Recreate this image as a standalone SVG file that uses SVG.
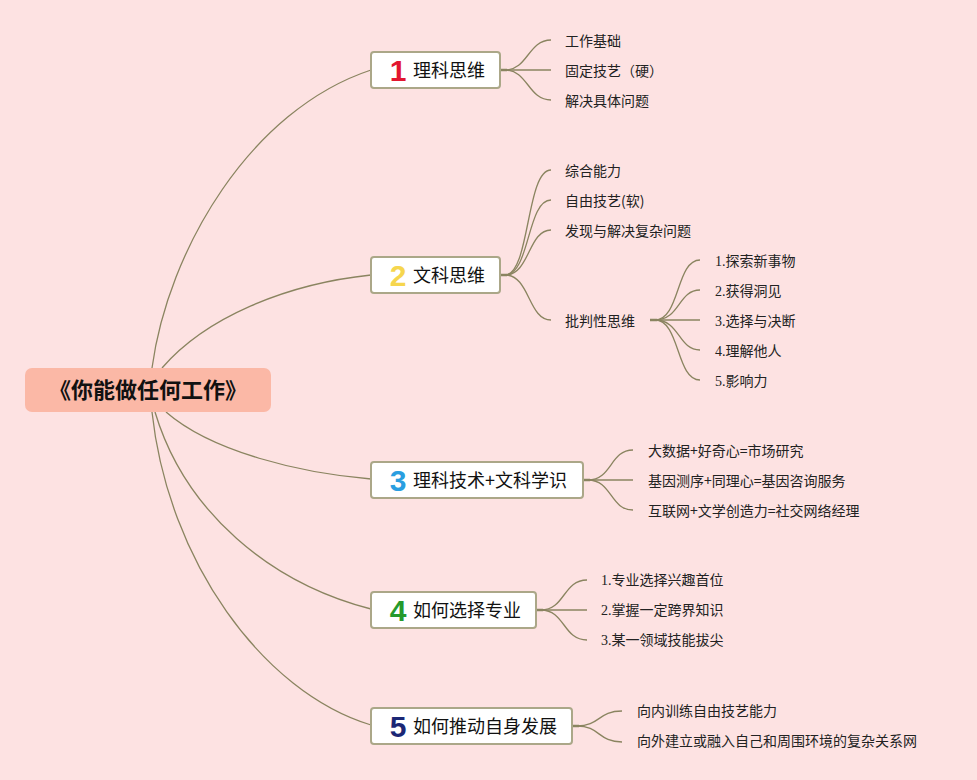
<svg xmlns="http://www.w3.org/2000/svg" width="977" height="780" viewBox="0 0 977 780">
<style>
.bg{fill:#fde2e2}
.root{fill:#fbb8a6}
.rootT{font-family:"Noto Sans CJK SC","Noto Sans",sans-serif;font-weight:bold;font-size:22px;fill:#111}
.box{fill:#ffffff;stroke:#aba788;stroke-width:2}
.bt{font-family:"Noto Sans CJK SC","Noto Sans",sans-serif;font-size:18px;fill:#111}
.num{font-family:"Liberation Sans","Arial",sans-serif;font-weight:bold;font-size:30px}
.lt{font-family:"Noto Sans CJK SC","Noto Sans",sans-serif;font-size:14px;fill:#222}
.ls{font-family:"Liberation Serif","Noto Sans CJK SC",serif;font-size:14px;fill:#222}
.c{fill:none;stroke:#8a8460;stroke-width:1.3}
.stub{fill:none;stroke:#8a8460;stroke-width:2.5}
</style>
<rect class="bg" x="0" y="0" width="977" height="780"/>
<g id="connectors">
<path class="c" d="M152,368 C168,250 250,110 371,70"/>
<path class="c" d="M162,368 C205,318 285,284 371,275"/>
<path class="c" d="M166,412 C212,452 300,473 371,479"/>
<path class="c" d="M155,412 C185,512 270,583 371,609"/>
<path class="c" d="M152,412 C168,560 262,692 371,725"/>
<path class="stub" d="M500,70 L507,70"/>
<path class="c" d="M505,70 C528,70 528,40 551,40"/>
<path class="c" d="M505,70 L551,70"/>
<path class="c" d="M505,70 C528,70 528,100 551,100"/>
<path class="stub" d="M500,275 L507,275"/>
<path class="c" d="M505,275 C530,275 526,170 551,170"/>
<path class="c" d="M505,275 C530,275 527,200 551,200"/>
<path class="c" d="M505,275 C530,275 528,230 551,230"/>
<path class="c" d="M505,275 C530,275 528,320 551,320"/>
<path class="stub" d="M650,320 L657,320"/>
<path class="c" d="M655,320 C680,320 676,260 700,260"/>
<path class="c" d="M655,320 C680,320 678,290 700,290"/>
<path class="c" d="M655,320 L700,320"/>
<path class="c" d="M655,320 C680,320 678,350 700,350"/>
<path class="c" d="M655,320 C680,320 676,380 700,380"/>
<path class="stub" d="M583,480 L590,480"/>
<path class="c" d="M588,480 C612,480 610,450 633,450"/>
<path class="c" d="M588,480 L633,480"/>
<path class="c" d="M588,480 C612,480 610,510 633,510"/>
<path class="stub" d="M536,610 L543,610"/>
<path class="c" d="M541,610 C565,610 563,580 587,580"/>
<path class="c" d="M541,610 L587,610"/>
<path class="c" d="M541,610 C565,610 563,640 587,640"/>
<path class="stub" d="M572,726 L579,726"/>
<path class="c" d="M577,726 C600,726 598,711 622,711"/>
<path class="c" d="M577,726 C600,726 598,742 622,742"/>
</g>
<g id="root">
<rect class="root" x="25" y="368" width="246" height="44" rx="7"/>
<text class="rootT" x="148" y="398" text-anchor="middle">《你能做任何工作》</text>
</g>
<g id="b1">
<rect class="box" x="371" y="52" width="129" height="36" rx="3"/>
<text class="num" x="398" y="81" text-anchor="middle" fill="#e2162f">1</text>
<text class="bt" x="413" y="77">理科思维</text>
</g>
<g id="b1-leaves">
<text class="lt" x="565" y="46">工作基础</text>
<text class="lt" x="565" y="76">固定技艺（硬）</text>
<text class="lt" x="565" y="106">解决具体问题</text>
</g>
<g id="b2">
<rect class="box" x="371" y="257" width="129" height="36" rx="3"/>
<text class="num" x="398" y="286" text-anchor="middle" fill="#f6d64e">2</text>
<text class="bt" x="413" y="282">文科思维</text>
</g>
<g id="b2-leaves">
<text class="lt" x="565" y="176">综合能力</text>
<text class="lt" x="565" y="206">自由技艺(软)</text>
<text class="lt" x="565" y="236">发现与解决复杂问题</text>
<text class="lt" x="565" y="326">批判性思维</text>
</g>
<g id="b2-critical">
<text class="ls" x="715" y="266">1.探索新事物</text>
<text class="ls" x="715" y="296">2.获得洞见</text>
<text class="ls" x="715" y="326">3.选择与决断</text>
<text class="ls" x="715" y="356">4.理解他人</text>
<text class="ls" x="715" y="386">5.影响力</text>
</g>
<g id="b3">
<rect class="box" x="371" y="462" width="212" height="36" rx="3"/>
<text class="num" x="398" y="491" text-anchor="middle" fill="#2a9ee0">3</text>
<text class="bt" x="413" y="487">理科技术+文科学识</text>
</g>
<g id="b3-leaves">
<text class="lt" x="648" y="456">大数据+好奇心=市场研究</text>
<text class="lt" x="648" y="486">基因测序+同理心=基因咨询服务</text>
<text class="lt" x="648" y="516">互联网+文学创造力=社交网络经理</text>
</g>
<g id="b4">
<rect class="box" x="371" y="592" width="165" height="36" rx="3"/>
<text class="num" x="398" y="621" text-anchor="middle" fill="#259a2c">4</text>
<text class="bt" x="413" y="617">如何选择专业</text>
</g>
<g id="b4-leaves">
<text class="ls" x="601" y="585">1.专业选择兴趣首位</text>
<text class="ls" x="601" y="615">2.掌握一定跨界知识</text>
<text class="ls" x="601" y="645">3.某一领域技能拔尖</text>
</g>
<g id="b5">
<rect class="box" x="371" y="708" width="201" height="36" rx="3"/>
<text class="num" x="398" y="737" text-anchor="middle" fill="#1b2775">5</text>
<text class="bt" x="413" y="733">如何推动自身发展</text>
</g>
<g id="b5-leaves">
<text class="lt" x="637" y="716">向内训练自由技艺能力</text>
<text class="lt" x="637" y="746">向外建立或融入自己和周围环境的复杂关系网</text>
</g>
</svg>
